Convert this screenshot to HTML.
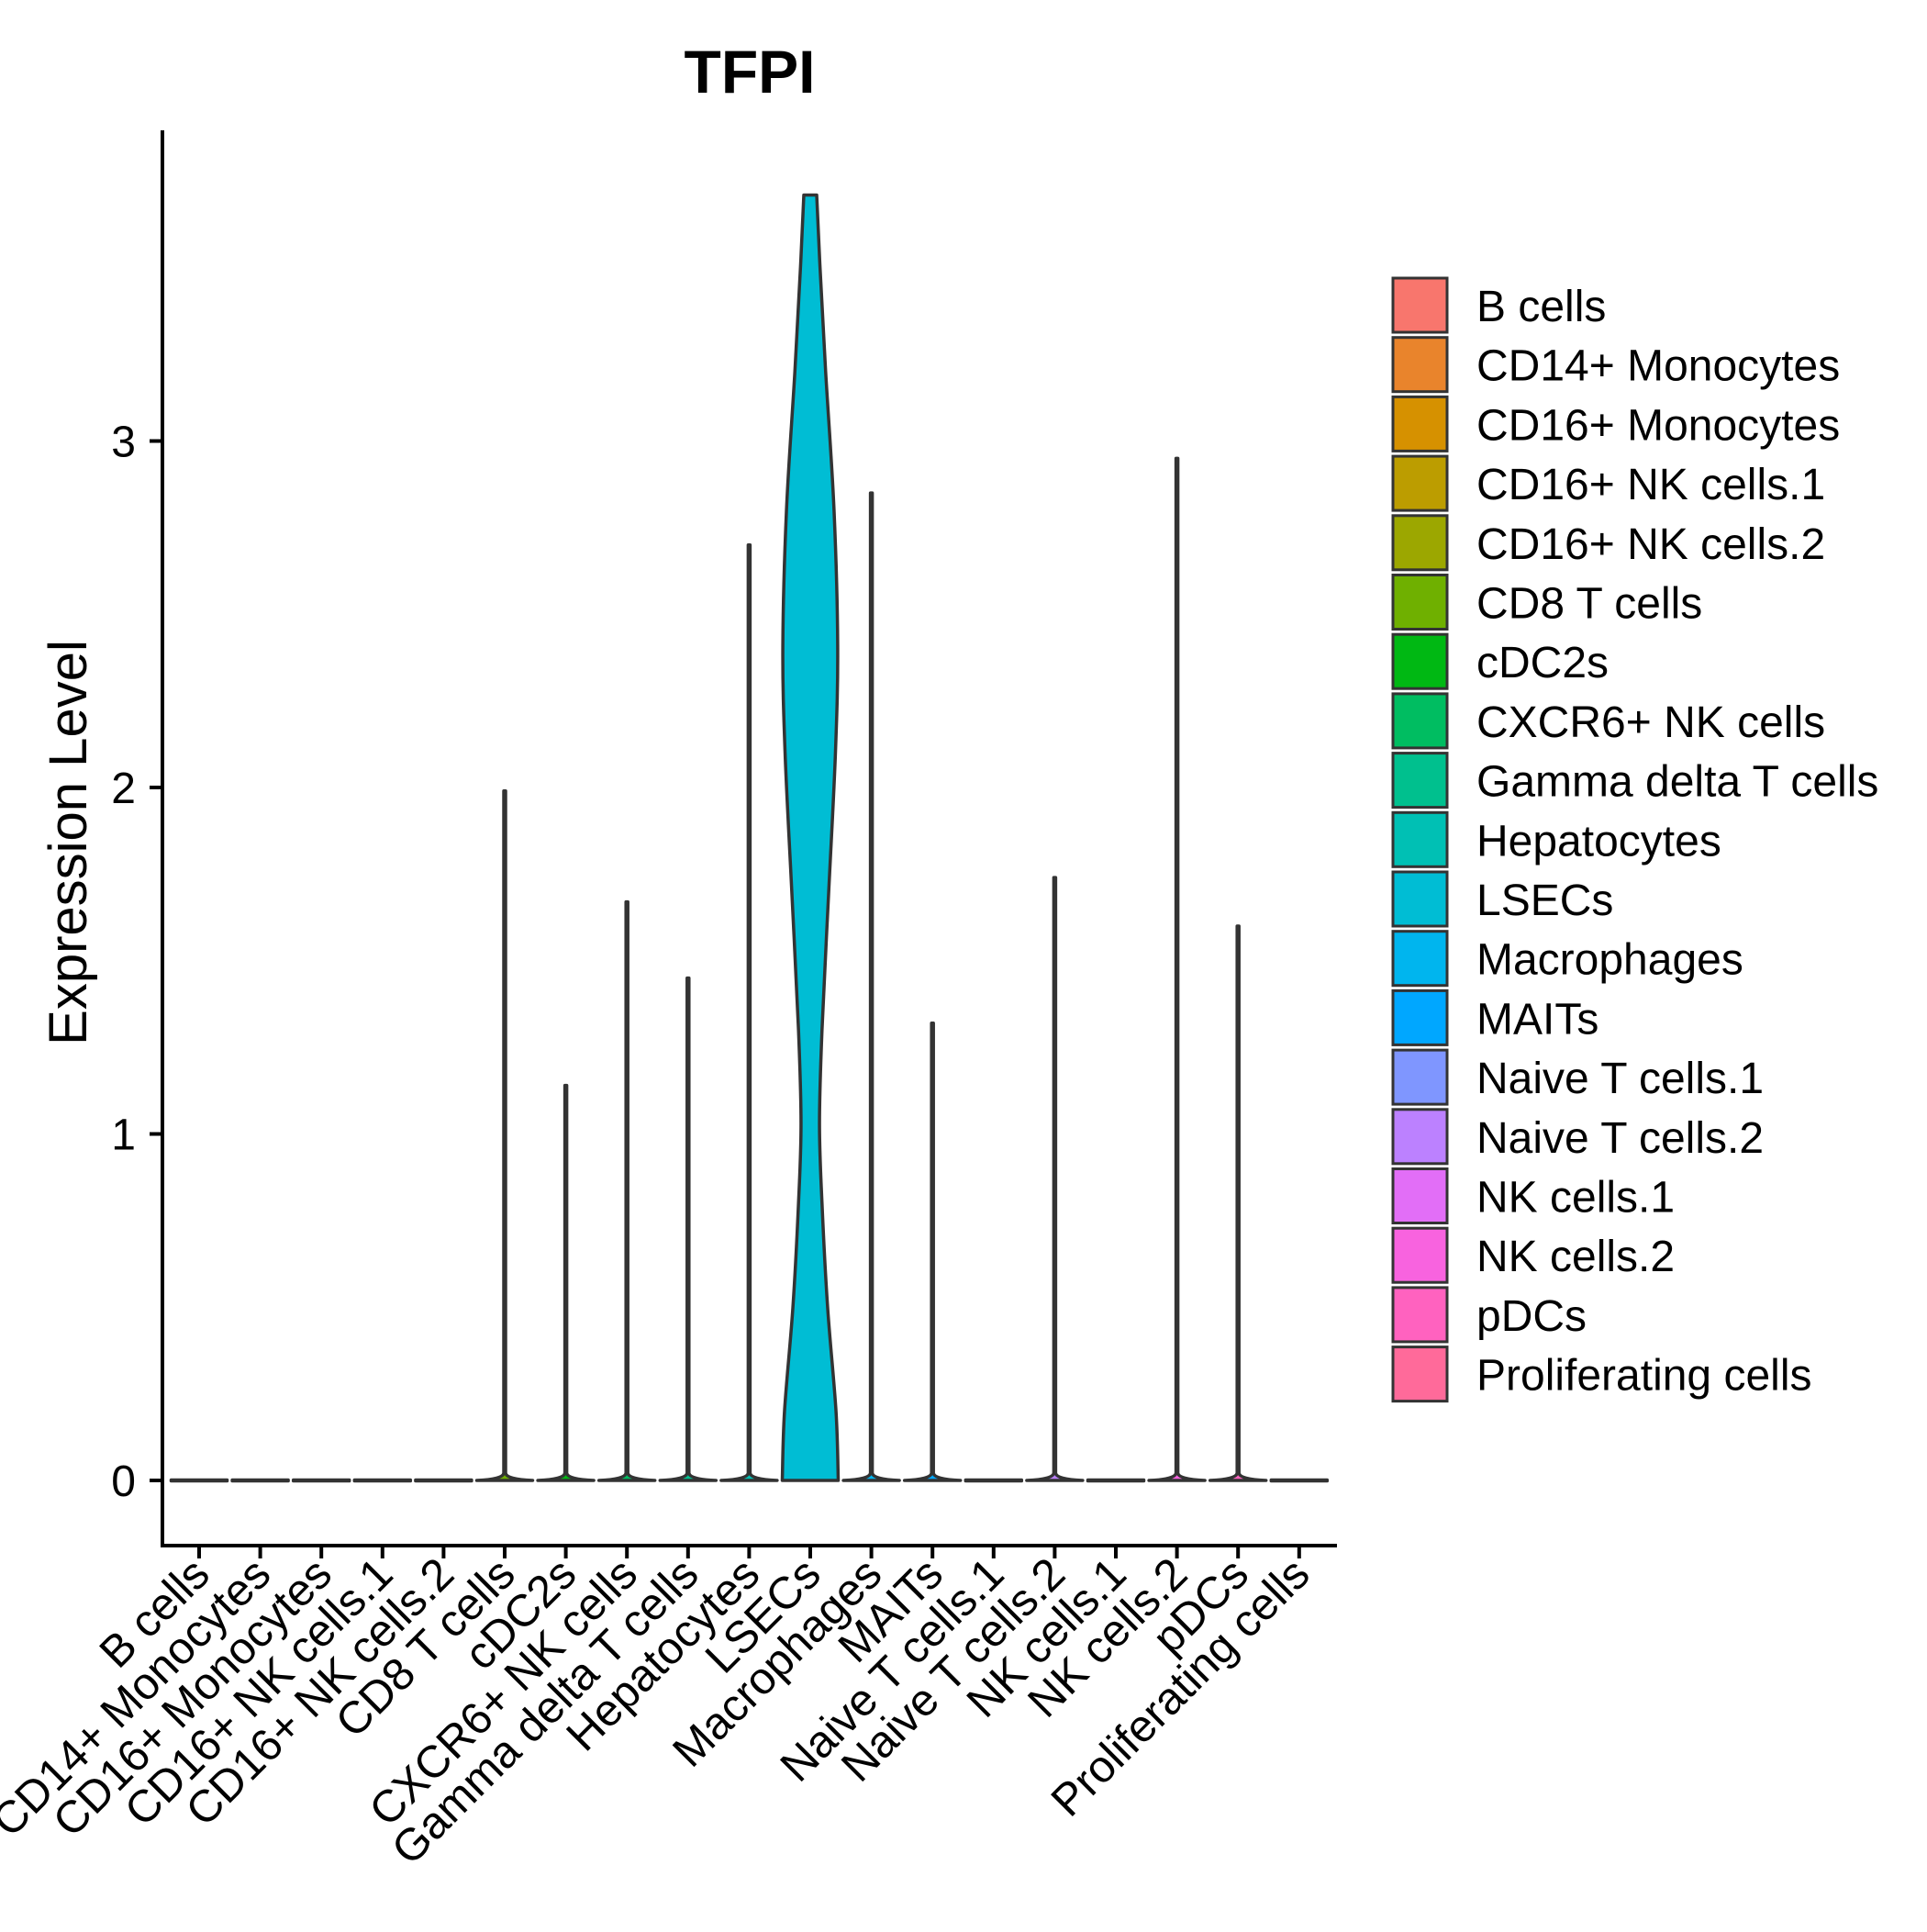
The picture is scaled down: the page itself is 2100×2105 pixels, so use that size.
<!DOCTYPE html>
<html><head><meta charset="utf-8"><style>
html,body{margin:0;padding:0;background:#fff}
svg text{font-family:"Liberation Sans",Arial,sans-serif;fill:#000}
</style></head><body>
<svg id="chart" width="2100" height="2100" viewBox="0 0 2100 2100" xmlns="http://www.w3.org/2000/svg">
<text x="817" y="101" font-size="66" font-weight="bold" text-anchor="middle">TFPI</text>
<text transform="translate(94,918) rotate(-90)" font-size="58" text-anchor="middle">Expression Level</text>
<g id="plot"></g>
<g id="legend"></g>
</svg>
<script>
const categories = ["B cells","CD14+ Monocytes","CD16+ Monocytes","CD16+ NK cells.1","CD16+ NK cells.2","CD8 T cells","cDC2s","CXCR6+ NK cells","Gamma delta T cells","Hepatocytes","LSECs","Macrophages","MAITs","Naive T cells.1","Naive T cells.2","NK cells.1","NK cells.2","pDCs","Proliferating cells"];
const maxValues = [0,0,0,0,0,1.99,1.14,1.67,1.45,2.70,3.71,2.85,1.32,0,1.74,0,2.95,1.60,0];
const lsecProfileValues = [0,0.2,0.5,0.8,1.03,1.3,1.7,2.1,2.41,2.8,3.2,3.5,3.71];
const lsecProfileWidths = [1.0,0.92,0.62,0.42,0.33,0.42,0.66,0.90,0.98,0.85,0.55,0.35,0.23];
const yTicks = [0,1,2,3];

const NS="http://www.w3.org/2000/svg";
const plot=document.getElementById('plot');
const x0=217, dx=66.6, y0=1613, unit=377.5;
const xs=i=>x0+dx*i;
const ys=v=>y0-v*unit;
const halfW=30.5;
const axisY=1684;
function mk(tag,attrs,parent){const e=document.createElementNS(NS,tag);for(const k in attrs)e.setAttribute(k,attrs[k]);(parent||plot).appendChild(e);return e;}

function hcl2hex(h,c,l){
  const hr=h*Math.PI/180;const L=l,U=c*Math.cos(hr),V=c*Math.sin(hr);
  const Xn=95.047,Yn=100,Zn=108.883;
  const un=4*Xn/(Xn+15*Yn+3*Zn), vn=9*Yn/(Xn+15*Yn+3*Zn);
  const Y = L>8 ? Yn*Math.pow((L+16)/116,3) : Yn*L/903.3;
  const u=U/(13*L)+un, v=V/(13*L)+vn;
  const X=9*Y*u/(4*v), Z=-X/3-5*Y+3*Y/v;
  let r=(3.240479*X-1.53715*Y-0.498535*Z)/100, g=(-0.969256*X+1.875992*Y+0.041556*Z)/100, b=(0.055648*X-0.204043*Y+1.057311*Z)/100;
  const gam=t=>{t=t>0.0031308?1.055*Math.pow(t,1/2.4)-0.055:12.92*t;return Math.max(0,Math.min(255,Math.round(t*255)));};
  return '#'+[r,g,b].map(gam).map(n=>n.toString(16).padStart(2,'0')).join('');
}
const n=categories.length;
const colors=categories.map((_,i)=>hcl2hex(15+360/n*i,100,65));

const ax=mk('line',{x1:177,y1:142,x2:177,y2:axisY,stroke:'#000','stroke-width':4});


const bx=mk('line',{x1:175,y1:axisY,x2:1457,y2:axisY,stroke:'#000','stroke-width':4});



yTicks.forEach(t=>{
  const tk=mk('line',{x1:163,y1:ys(t),x2:177,y2:ys(t),stroke:'#000','stroke-width':4});
  
  
  const tl=mk('text',{x:148,y:ys(t)+17,'font-size':48,'text-anchor':'end'});
  tl.textContent=t;
  
  
});

categories.forEach((c,i)=>{
  const cx=xs(i);
  const tk=mk('line',{x1:cx,y1:axisY,x2:cx,y2:axisY+14,stroke:'#000','stroke-width':4});
  
  
  const tl=mk('text',{x:0,y:0,'font-size':49,'text-anchor':'end',transform:`translate(${cx+14},${axisY+34}) rotate(-45)`});
  tl.textContent=c;
  
  

  const m=maxValues[i];
  let d;
  if(c==="LSECs"){
    const right=lsecProfileValues.map((v,k)=>[cx+halfW*lsecProfileWidths[k],ys(v)]);
    const left=lsecProfileValues.map((v,k)=>[cx-halfW*lsecProfileWidths[k],ys(v)]).reverse();
    const sm=(arr,start)=>{let s=start?`M${arr[0][0]},${arr[0][1]}`:'';for(let k=0;k<arr.length-1;k++){const p0=arr[Math.max(0,k-1)],p1=arr[k],p2=arr[k+1],p3=arr[Math.min(arr.length-1,k+2)];s+=` C${p1[0]+(p2[0]-p0[0])/6},${p1[1]+(p2[1]-p0[1])/6} ${p2[0]-(p3[0]-p1[0])/6},${p2[1]-(p3[1]-p1[1])/6} ${p2[0]},${p2[1]}`;}return s;};
    d=sm(right,true)+` L${left[0][0]},${left[0][1]}`+sm(left,false)+' Z';
  } else if(m>0){
    d=`M${cx-halfW},${y0} Q${cx-2},${y0-1} ${cx-1},${y0-8} L${cx-1},${ys(m)} L${cx+1},${ys(m)} L${cx+1},${y0-8} Q${cx+2},${y0-1} ${cx+halfW},${y0} Z`;
  } else {
    d=`M${cx-halfW},${y0-0.5} L${cx+halfW},${y0-0.5} L${cx+halfW},${y0+0.5} L${cx-halfW},${y0+0.5} Z`;
  }
  const p=mk('path',{d:d,fill:colors[i],stroke:'#333','stroke-width':3.5,'stroke-linejoin':'round'});
  
  
});

const lg=document.getElementById('legend');
categories.forEach((c,i)=>{
  const y=303+i*64.7;
  const r=mk('rect',{x:1518,y:y,width:59,height:59,fill:colors[i],stroke:'#333','stroke-width':3},lg);
  
  
  const t=mk('text',{x:1609,y:y+47,'font-size':48},lg);
  t.textContent=c;
  
  
});
</script>
</body></html>
